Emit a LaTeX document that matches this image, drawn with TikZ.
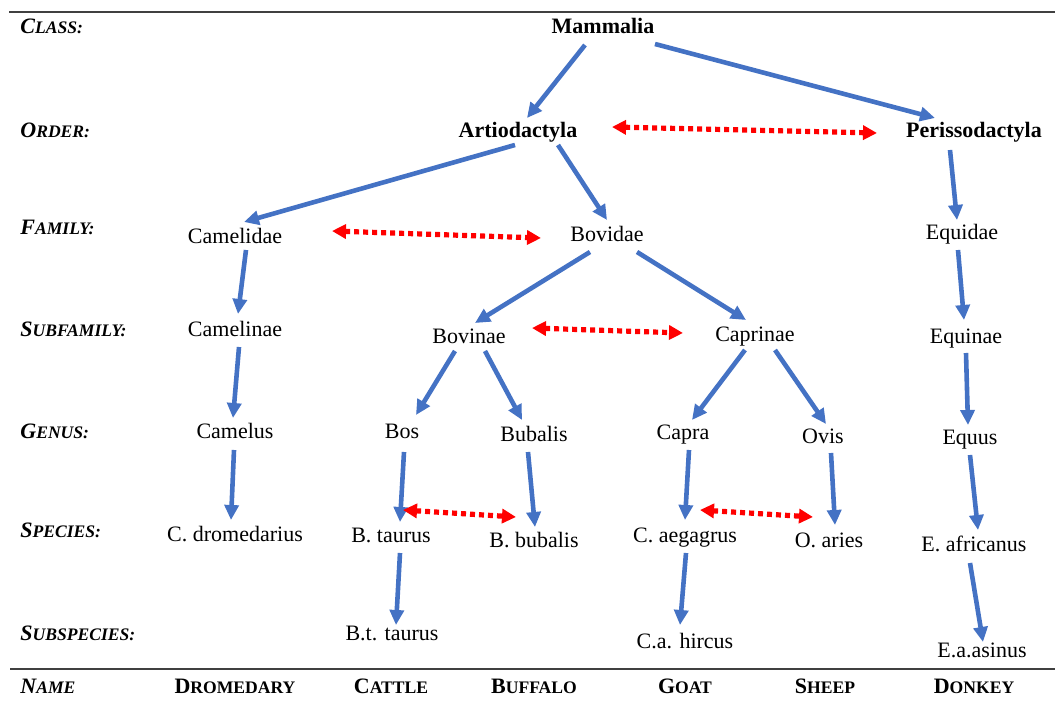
\documentclass[tikz,border=0pt]{standalone}
\usepackage{fontspec}
\setmainfont{Liberation Serif}
\usetikzlibrary{arrows.meta,calc}
\definecolor{ablue}{HTML}{4472C4}
\definecolor{rulec}{HTML}{404040}
\newcommand{\fsc}[2]{#1{\fontsize{8.8}{10}\selectfont #2}}
\begin{document}
\begin{tikzpicture}[x=0.5pt,y=-0.5pt,
  tx/.style={inner sep=0pt,text height=7pt,text depth=0pt,font=\fontsize{11}{13}\selectfont},
  bt/.style={tx,font=\fontsize{11}{13}\selectfont\bfseries},
  lab/.style={tx,anchor=west,font=\fontsize{11}{13}\selectfont\bfseries\itshape},
  nm/.style={tx,font=\fontsize{11}{13}\selectfont\bfseries},
  arr/.style={draw=ablue,line width=2.3pt,-{Triangle[length=7.5pt,width=7pt]}},
  dbl/.style={draw=red,line width=2.6pt,dash pattern=on 2.5pt off 2pt,{Triangle[length=7pt,width=7pt]}-{Triangle[length=7pt,width=7pt]}},
  rul/.style={draw=rulec,line width=1pt}]
\useasboundingbox (0,0) rectangle (1055,715);
\draw[rul] (9,12.5) -- (1055,12.5);
\draw[rul] (10,669) -- (1055,669);
% row labels
\node[lab] (lclass) at (20,27) {\fsc{C}{LASS:}};
\node[lab] (lorder) at (20,131) {\fsc{O}{RDER:}};
\node[lab] (lfam) at (20,228) {\fsc{F}{AMILY:}};
\node[lab] (lsubf) at (20,330) {\fsc{S}{UBFAMILY:}};
\node[lab] (lgen) at (20,432) {\fsc{G}{ENUS:}};
\node[lab] (lspec) at (20,531) {\fsc{S}{PECIES:}};
\node[lab] (lsubs) at (20,633) {\fsc{S}{UBSPECIES:}};
\node[lab] (lname) at (20,686) {\fsc{N}{AME}};
% common names
\node[nm] (ndrom) at (235,686) {\fsc{D}{ROMEDARY}};
\node[nm] (ncatt) at (391,686) {\fsc{C}{ATTLE}};
\node[nm] (nbuff) at (534,686) {\fsc{B}{UFFALO}};
\node[nm] (ngoat) at (685,686) {\fsc{G}{OAT}};
\node[nm] (nshee) at (825,686) {\fsc{S}{HEEP}};
\node[nm] (ndonk) at (974,686) {\fsc{D}{ONKEY}};
% taxa
\node[bt] (mam) at (603,27) {Mammalia};
\node[bt] (art) at (518,131) {Artiodactyla};
\node[bt] (per) at (974,131) {Perissodactyla};
\node[tx] (cam) at (235,237) {Camelidae};
\node[tx] (bov) at (607,235) {Bovidae};
\node[tx] (equ) at (962,233) {Equidae};
\node[tx] (camn) at (235,330) {Camelinae};
\node[tx] (bovn) at (469,337) {Bovinae};
\node[tx] (capn) at (755,335) {Caprinae};
\node[tx] (eqn) at (966,337) {Equinae};
\node[tx] (camel) at (235,432) {Camelus};
\node[tx] (bos) at (402,432) {Bos};
\node[tx] (bub) at (534,435) {Bubalis};
\node[tx] (capra) at (683,433) {Capra};
\node[tx] (ovis) at (823,437) {Ovis};
\node[tx] (equus) at (970,438) {Equus};
\node[tx] (cdrom) at (235,535) {C. dromedarius};
\node[tx] (btaur) at (391,536) {B. taurus};
\node[tx] (bbub) at (534,541) {B. bubalis};
\node[tx] (caeg) at (685,536) {C. aegagrus};
\node[tx] (oar) at (829,541) {O. aries};
\node[tx] (eafr) at (974,545) {E. africanus};
\node[tx] (btt) at (392,633) {B.t. taurus};
\node[tx] (cah) at (685,641) {C.a. hircus};
\node[tx] (eaa) at (982,651) {E.a.asinus};
% blue arrows
\draw[arr] ($(mam)+(-18,18)$) -- ($(art)+(9,-13)$);
\draw[arr] ($(mam)+(52,17)$) -- ($(per)+(-39,-13)$);
\draw[arr] ($(art)+(-3,14)$) -- ($(cam)+(9,-15)$);
\draw[arr] ($(art)+(40,14)$) -- ($(bov)+(0,-15)$);
\draw[arr] ($(per)+(-24,19)$) -- ($(equ)+(-5,-13)$);
\draw[arr] ($(cam)+(11,13)$) -- ($(camn)+(3,-16)$);
\draw[arr] ($(bov)+(-17,17)$) -- ($(bovn)+(6,-14)$);
\draw[arr] ($(bov)+(30,17)$) -- ($(capn)+(-9,-15)$);
\draw[arr] ($(equ)+(-4,17)$) -- ($(eqn)+(-2,-17)$);
\draw[arr] ($(camn)+(4,17)$) -- ($(camel)+(-2,-14)$);
\draw[arr] ($(bovn)+(-14,14)$) -- ($(bos)+(14,-17)$);
\draw[arr] ($(bovn)+(16,14)$) -- ($(bub)+(-12,-15)$);
\draw[arr] ($(capn)+(-10,15)$) -- ($(capra)+(9,-13)$);
\draw[arr] ($(capn)+(20,15)$) -- ($(ovis)+(3,-13)$);
\draw[arr] ($(eqn)+(0,16)$) -- ($(equus)+(-2,-13)$);
\draw[arr] ($(camel)+(-1,18)$) -- ($(cdrom)+(-4,-15)$);
\draw[arr] ($(bos)+(2,20)$) -- ($(btaur)+(9,-14)$);
\draw[arr] ($(bub)+(-6,17)$) -- ($(bbub)+(1,-14)$);
\draw[arr] ($(capra)+(6,17)$) -- ($(caeg)+(0,-16)$);
\draw[arr] ($(ovis)+(8,16)$) -- ($(oar)+(6,-16)$);
\draw[arr] ($(equus)+(0,17)$) -- ($(eafr)+(4,-15)$);
\draw[arr] ($(btaur)+(9,17)$) -- ($(btt)+(4,-8)$);
\draw[arr] ($(caeg)+(1,17)$) -- ($(cah)+(-5,-16)$);
\draw[arr] ($(eafr)+(-4,18)$) -- ($(eaa)+(1,-9)$);
% red dotted double arrows
\draw[dbl] ($(art)+(94,-4)$) -- ($(per)+(-97,2)$);
\draw[dbl] ($(cam)+(97,-6)$) -- ($(bov)+(-66,3)$);
\draw[dbl] ($(bovn)+(63,-9)$) -- ($(capn)+(-72,-2)$);
\draw[dbl] ($(btaur)+(12,-26)$) -- ($(bbub)+(-18,-24)$);
\draw[dbl] ($(caeg)+(15,-26)$) -- ($(oar)+(-16,-24)$);
\end{tikzpicture}
\end{document}
